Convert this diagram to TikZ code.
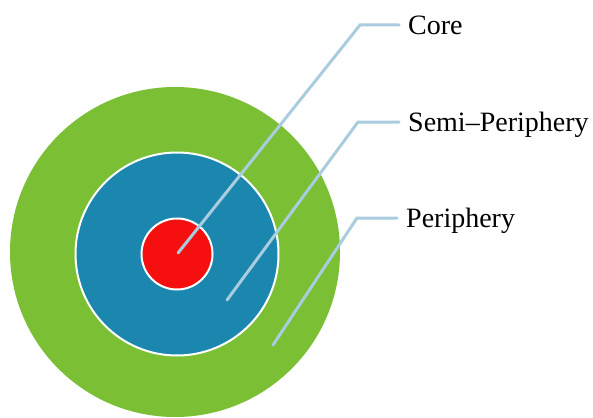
\documentclass[tikz,border=0pt]{standalone}
\usepackage{fontspec}
\setmainfont{Liberation Serif}
\usepackage{xcolor}
\usepackage{tikz}
\usetikzlibrary{positioning}

\definecolor{ringgreen}{HTML}{7BBF35}
\definecolor{ringblue}{HTML}{1B87AF}
\definecolor{ringred}{HTML}{F50F0F}
\definecolor{leadblue}{HTML}{A9CCDE}

\tikzset{
  ring/.style={shape=circle, inner sep=0pt},
  rim/.style={draw=white, line width=2pt},
  leader/.style={draw=leadblue, line width=3pt, line cap=round},
  lbl/.style={anchor=west, inner xsep=9pt, inner ysep=0pt, text height=18.5pt, text depth=0pt, font=\fontsize{28}{32}\selectfont}
}

\begin{document}
\begin{tikzpicture}[x=1pt, y=-1pt]
    \useasboundingbox (0,0) rectangle (593,417);

    \node[ring, fill=ringgreen, minimum size=330pt] (P) at (175,252) {};
    \node[ring, rim, fill=ringblue, minimum size=203pt] (S) at (177,254) {};
    \node[ring, rim, fill=ringred, minimum size=71pt] (C) at (177,254) {};

    \coordinate (c0) at (178,253);
    \coordinate (c1) at (360,25);
    \coordinate (s0) at (227,300);
    \coordinate (s1) at (358,122);
    \coordinate (p0) at (273,345);
    \coordinate (p1) at (357,218);

    \node[lbl] (core) at (399,25) {Core};
    \node[lbl] (semi) at (399,122) {Semi--Periphery};
    \node[lbl] (peri) at (397,218) {Periphery};

    \draw[leader] (c0) -- (c1) -- (core.west);
    \draw[leader] (s0) -- (s1) -- (semi.west);
    \draw[leader] (p0) -- (p1) -- (peri.west);
\end{tikzpicture}
\end{document}
